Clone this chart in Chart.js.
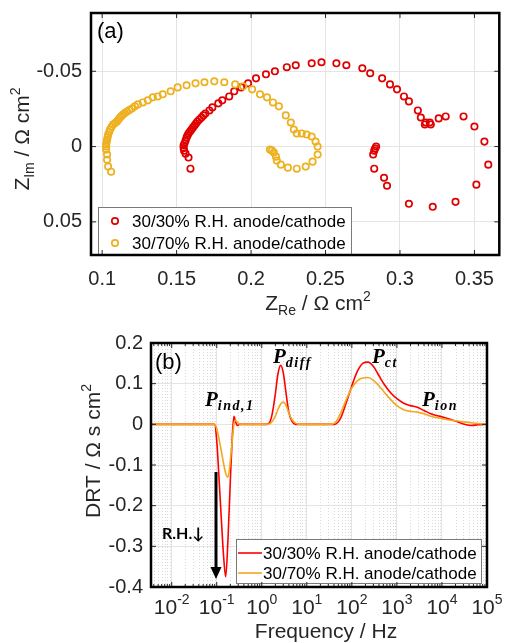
<!DOCTYPE html>
<html>
<head>
<meta charset="utf-8">
<script src="https://cdn.jsdelivr.net/npm/chart.js@4.4.1/dist/chart.umd.min.js"></script>
<style>
    html, body { margin: 0; padding: 0; background: #fff; }
    #wrap { position: relative; width: 505px; height: 643px; overflow: hidden; }
    .panel { position: absolute; left: 0; width: 505px; }
    #panelA { top: 0; height: 320px; }
    #panelB { top: 320px; height: 323px; }
</style>
</head>
<body>
<div id="wrap">
    <div class="panel" id="panelA"><canvas id="nyquistChart" width="505" height="320"></canvas></div>
    <div class="panel" id="panelB"><canvas id="drtChart" width="505" height="323"></canvas></div>
</div>
<script>
// EIS of a fuel cell at two humidity settings: Nyquist (a) and DRT (b)

const labelDry = '30/30% R.H. anode/cathode';
const labelWet = '30/70% R.H. anode/cathode';

// (a) Nyquist points, Z_Re and Z_Im in Ohm cm2
const zReDry = [0.1593, 0.1580, 0.1560, 0.1550, 0.1547, 0.1547, 0.1553, 0.1560, 0.1567, 0.1573,
    0.1580, 0.1590, 0.1600, 0.1610, 0.1620, 0.1630, 0.1640, 0.1653, 0.1667, 0.1680,
    0.1693, 0.1720, 0.1740, 0.1780, 0.1807, 0.1853, 0.1887, 0.1933, 0.1980, 0.2033,
    0.2100, 0.2160, 0.2240, 0.2300, 0.2407, 0.2473, 0.2573, 0.2640, 0.2747, 0.2800,
    0.2880, 0.2933, 0.2980, 0.3027, 0.3060, 0.3120, 0.3140, 0.3167, 0.3173, 0.3200,
    0.3207, 0.3260, 0.3307, 0.3427, 0.3500, 0.3567, 0.3593, 0.3513, 0.3373, 0.3220,
    0.3060, 0.2913, 0.2893, 0.2827, 0.2820, 0.2827, 0.2833, 0.2840];
const zImDry = [0.0147, 0.0073, 0.0047, 0.0027, 0.0010, -0.0007, -0.0020, -0.0040, -0.0060, -0.0073,
    -0.0087, -0.0100, -0.0113, -0.0127, -0.0140, -0.0153, -0.0167, -0.0180, -0.0193, -0.0207,
    -0.0220, -0.0240, -0.0260, -0.0287, -0.0307, -0.0333, -0.0367, -0.0393, -0.0420, -0.0453,
    -0.0480, -0.0500, -0.0527, -0.0540, -0.0553, -0.0560, -0.0553, -0.0540, -0.0520, -0.0487,
    -0.0453, -0.0413, -0.0380, -0.0333, -0.0300, -0.0240, -0.0193, -0.0147, -0.0160, -0.0160,
    -0.0147, -0.0187, -0.0200, -0.0200, -0.0133, -0.0033, 0.0120, 0.0253, 0.0367, 0.0400,
    0.0380, 0.0260, 0.0207, 0.0147, 0.0053, 0.0027, 0.0013, 0.0000];

const zReWet = [0.1060, 0.1040, 0.1033, 0.1033, 0.1027, 0.1027, 0.1027, 0.1030, 0.1033, 0.1037,
    0.1040, 0.1047, 0.1053, 0.1063, 0.1073, 0.1087, 0.1100, 0.1110, 0.1120, 0.1130,
    0.1140, 0.1153, 0.1167, 0.1183, 0.1200, 0.1220, 0.1240, 0.1273, 0.1307, 0.1340,
    0.1373, 0.1407, 0.1460, 0.1507, 0.1567, 0.1627, 0.1687, 0.1753, 0.1820, 0.1893,
    0.1947, 0.2007, 0.2060, 0.2107, 0.2147, 0.2187, 0.2233, 0.2267, 0.2287, 0.2307,
    0.2340, 0.2373, 0.2407, 0.2433, 0.2447, 0.2447, 0.2413, 0.2367, 0.2307, 0.2247,
    0.2200, 0.2173, 0.2167, 0.2153, 0.2140, 0.2127];
const zImWet = [0.0167, 0.0133, 0.0087, 0.0053, 0.0020, 0.0000, -0.0013, -0.0030, -0.0047, -0.0063,
    -0.0080, -0.0097, -0.0113, -0.0130, -0.0147, -0.0157, -0.0167, -0.0180, -0.0193, -0.0203,
    -0.0213, -0.0223, -0.0233, -0.0243, -0.0253, -0.0267, -0.0280, -0.0293, -0.0307, -0.0327,
    -0.0333, -0.0347, -0.0367, -0.0393, -0.0407, -0.0420, -0.0427, -0.0433, -0.0427, -0.0413,
    -0.0400, -0.0380, -0.0347, -0.0327, -0.0293, -0.0267, -0.0207, -0.0160, -0.0113, -0.0087,
    -0.0087, -0.0080, -0.0067, -0.0033, 0.0000, 0.0053, 0.0100, 0.0133, 0.0147, 0.0140,
    0.0120, 0.0093, 0.0067, 0.0040, 0.0027, 0.0020];

const nyqXTicks = [0.1, 0.15, 0.2, 0.25, 0.3, 0.35];
const nyqYTicks = [-0.05, 0, 0.05];

// (b) DRT, frequency in Hz and gamma in Ohm s cm2
const drtFreq = [0.00347, 0.0316, 0.0891, 0.1, 0.112, 0.126, 0.141, 0.158, 0.178, 0.2,
    0.219, 0.24, 0.263, 0.288, 0.316, 0.398, 1, 1.26, 1.48, 1.7,
    2.0, 2.29, 2.63, 3.02, 3.47, 3.98, 4.68, 5.62, 7.08, 31.6,
    41.7, 56.2, 75.9, 100, 132, 174, 229, 302, 398, 525,
    708, 1000, 1413, 1995, 2818, 3981, 5623, 7943, 11220, 15850,
    22390, 31620, 44670, 63100, 100000];
const drtDry = [0, 0, 0, -0.04, -0.13, -0.23, -0.32, -0.375, -0.28, -0.14,
    -0.04, 0.02, 0.006, -0.003, 0, 0, 0, 0, 0.004, 0.025,
    0.075, 0.125, 0.145, 0.125, 0.075, 0.03, 0.007, 0, 0, 0,
    0, 0.015, 0.055, 0.095, 0.13, 0.15, 0.153, 0.142, 0.12, 0.098,
    0.079, 0.063, 0.052, 0.046, 0.042, 0.034, 0.026, 0.021, 0.017, 0.012,
    0.006, 0, -0.003, -0.001, 0];
const drtWet = [0, 0, 0, -0.01, -0.035, -0.065, -0.095, -0.12, -0.13, -0.09,
    -0.045, 0, 0.01, 0.005, 0.001, 0, 0, 0, 0.001, 0.007,
    0.02, 0.037, 0.05, 0.055, 0.046, 0.028, 0.012, 0.003, 0, 0,
    0.003, 0.027, 0.062, 0.09, 0.107, 0.114, 0.115, 0.108, 0.095, 0.079,
    0.062, 0.046, 0.036, 0.032, 0.03, 0.026, 0.02, 0.016, 0.013, 0.01,
    0.008, 0.006, 0.004, 0.002, 0];

const drtXTicks = [1e-2, 1e-1, 1e0, 1e1, 1e2, 1e3, 1e4, 1e5];
const drtYTicks = [-0.4, -0.3, -0.2, -0.1, 0, 0.1, 0.2];

const FONT = '"Liberation Sans", Arial, Helvetica, sans-serif';
const SERIF = '"Liberation Serif", "DejaVu Serif", serif';
const RED = '#e00000';
const ORANGE = '#edb120';
const RED_LINE = '#ff0000';
const ORANGE_LINE = '#f2a81d';
const GRID = '#e4e4e4';
const INK = '#262626';

// draw a run of text pieces (for sub/superscripts)
function drawRich(ctx, parts, x, y, align) {
    let total = 0;
    const setFont = p => {
        ctx.font = (p.w || '') + ' ' + p.s + 'px ' + (p.f || FONT);
        ctx.letterSpacing = (p.ls || 0) + 'px';
    };
    parts.forEach(p => {
        setFont(p);
        p.width = ctx.measureText(p.t).width;
        total += p.width;
    });
    let cx = align === 'center' ? x - total / 2 : x;
    ctx.textAlign = 'left';
    ctx.textBaseline = 'alphabetic';
    parts.forEach(p => {
        setFont(p);
        ctx.fillText(p.t, cx, y + (p.dy || 0));
        cx += p.width;
    });
    ctx.letterSpacing = '0px';
}

function drawFrame(ctx, a, xs, ys, len) {
    ctx.strokeStyle = INK;
    ctx.lineWidth = 1;
    ctx.beginPath();
    xs.forEach(px => {
        ctx.moveTo(px, a.bottom); ctx.lineTo(px, a.bottom - len);
        ctx.moveTo(px, a.top); ctx.lineTo(px, a.top + len);
    });
    ys.forEach(py => {
        ctx.moveTo(a.left, py); ctx.lineTo(a.left + len, py);
        ctx.moveTo(a.right, py); ctx.lineTo(a.right - len, py);
    });
    ctx.stroke();
    ctx.strokeStyle = '#000';
    ctx.lineWidth = 2.5;
    ctx.strokeRect(a.left, a.top, a.right - a.left, a.bottom - a.top);
}

function legendBox(ctx, x, y, w, h) {
    ctx.fillStyle = '#fff';
    ctx.fillRect(x, y, w, h);
    ctx.strokeStyle = '#7a7a7a';
    ctx.lineWidth = 1;
    ctx.strokeRect(x + 0.5, y + 0.5, w, h);
}

// keep the plot box where the reference has it
function noScalePadding(s) {
    s.paddingTop = 0;
    s.paddingBottom = 0;
    s.paddingLeft = 0;
    s.paddingRight = 0;
}

const nyquistDecor = {
    id: 'nyquistDecor',
    afterDraw(chart) {
        const { ctx, chartArea: a, scales: { x, y } } = chart;
        ctx.save();
        // legend
        legendBox(ctx, 98, 207, 253, 47);
        [[RED, labelDry, 221], [ORANGE, labelWet, 243]].forEach(([c, t, ly]) => {
            ctx.strokeStyle = c;
            ctx.lineWidth = 1.7;
            ctx.beginPath();
            ctx.arc(115, ly, 3.2, 0, Math.PI * 2);
            ctx.stroke();
            ctx.fillStyle = '#000';
            ctx.font = '17px ' + FONT;
            ctx.textAlign = 'left';
            ctx.textBaseline = 'middle';
            ctx.fillText(t, 132, ly + 1);
        });
        drawFrame(ctx, a, nyqXTicks.map(v => x.getPixelForValue(v)), nyqYTicks.map(v => y.getPixelForValue(v)), 5);

        ctx.fillStyle = '#000';
        ctx.font = '22px ' + FONT;
        ctx.textAlign = 'left';
        ctx.textBaseline = 'alphabetic';
        ctx.fillText('(a)', 97, 38);

        ctx.fillStyle = INK;
        drawRich(ctx, [
            { t: 'Z', s: 21 }, { t: 'Re', s: 14, dy: 5 },
            { t: ' / Ω cm', s: 21 }, { t: '2', s: 14, dy: -9 }
        ], 318, 310, 'center');

        ctx.save();
        ctx.translate(29, 139);
        ctx.rotate(-Math.PI / 2);
        drawRich(ctx, [
            { t: 'Z', s: 21 }, { t: 'Im', s: 14, dy: 5 },
            { t: ' / Ω cm', s: 21 }, { t: '2', s: 14, dy: -9 }
        ], 0, 0, 'center');
        ctx.restore();
        ctx.restore();
    }
};

const drtDecor = {
    id: 'drtDecor',
    beforeDatasetsDraw(chart) {
        const { ctx, chartArea: a, scales: { x } } = chart;
        ctx.save();
        ctx.strokeStyle = '#d9d9d9';
        ctx.lineWidth = 1;
        ctx.setLineDash([1, 2]);
        ctx.beginPath();
        for (let d = -3; d < 5; d++) {
            for (let k = 2; k < 10; k++) {
                const v = k * Math.pow(10, d);
                if (v < x.min || v > x.max) continue;
                const px = Math.round(x.getPixelForValue(v)) + 0.5;
                ctx.moveTo(px, a.top); ctx.lineTo(px, a.bottom);
            }
        }
        ctx.stroke();
        ctx.restore();
    },
    afterDraw(chart) {
        const { ctx, chartArea: a, scales: { x, y } } = chart;
        ctx.save();
        // minor ticks on log axis
        ctx.strokeStyle = INK;
        ctx.lineWidth = 1;
        ctx.beginPath();
        for (let d = -3; d < 5; d++) {
            for (let k = 2; k < 10; k++) {
                const v = k * Math.pow(10, d);
                if (v < x.min || v > x.max) continue;
                const px = x.getPixelForValue(v);
                ctx.moveTo(px, a.bottom); ctx.lineTo(px, a.bottom - 3);
                ctx.moveTo(px, a.top); ctx.lineTo(px, a.top + 3);
            }
        }
        ctx.stroke();

        // legend
        legendBox(ctx, 236, 219, 245, 44);
        [[RED_LINE, labelDry, 233], [ORANGE_LINE, labelWet, 253]].forEach(([c, t, ly]) => {
            ctx.strokeStyle = c;
            ctx.lineWidth = 1.6;
            ctx.beginPath();
            ctx.moveTo(238, ly); ctx.lineTo(262, ly);
            ctx.stroke();
            ctx.fillStyle = '#000';
            ctx.font = '17px ' + FONT;
            ctx.textAlign = 'left';
            ctx.textBaseline = 'middle';
            ctx.fillText(t, 263, ly + 1);
        });

        drawFrame(ctx, a, drtXTicks.map(v => x.getPixelForValue(v)), drtYTicks.map(v => y.getPixelForValue(v)), 5);

        // decade tick labels
        ctx.fillStyle = INK;
        drtXTicks.forEach(v => {
            const e = Math.round(Math.log10(v));
            drawRich(ctx, [{ t: '10', s: 21 }, { t: String(e), s: 14, dy: -10 }],
                x.getPixelForValue(v), 294, 'center');
        });

        ctx.fillStyle = '#000';
        ctx.font = '22px ' + FONT;
        ctx.textAlign = 'left';
        ctx.textBaseline = 'alphabetic';
        ctx.fillText('(b)', 155, 49);

        // peak annotations
        const bi = 'bold italic';
        [['P', 'ind,1', 205, 86], ['P', 'diff', 273, 43], ['P', 'ct', 372, 43], ['P', 'ion', 422, 86]]
            .forEach(([m, sub, px, py]) => {
                drawRich(ctx, [
                    { t: m, s: 21, w: bi, f: SERIF },
                    { t: sub, s: 14, dy: 4, w: bi, f: SERIF, ls: 1.5 }
                ], px, py, 'left');
            });

        ctx.font = 'bold 16px Lato, "DejaVu Sans", sans-serif';
        ctx.fillText('R.H.↓', 162, 219);

        // humidity arrow
        ctx.strokeStyle = '#000';
        ctx.lineWidth = 3;
        ctx.beginPath();
        ctx.moveTo(216, 152); ctx.lineTo(216, 249);
        ctx.stroke();
        ctx.beginPath();
        ctx.moveTo(210.5, 247); ctx.lineTo(221.5, 247); ctx.lineTo(216, 259);
        ctx.closePath();
        ctx.fill();

        ctx.fillStyle = INK;
        drawRich(ctx, [{ t: 'Frequency / Hz', s: 21 }], 326, 318, 'center');
        ctx.save();
        ctx.translate(100, 131);
        ctx.rotate(-Math.PI / 2);
        drawRich(ctx, [{ t: 'DRT / Ω s cm', s: 21 }, { t: '2', s: 14, dy: -9 }], 0, 0, 'center');
        ctx.restore();
        ctx.restore();
    }
};

function fmtTick(v) {
    return String(Number(v.toFixed(2)));
}

function initNyquistChart() {
    const ctx = document.getElementById('nyquistChart');
    const pts = (xs, ys) => xs.map((v, i) => ({ x: v, y: ys[i] }));
    const markerStyle = c => ({
        borderColor: c,
        backgroundColor: 'rgba(0,0,0,0)',
        pointRadius: 3.2,
        pointBorderWidth: 1.7,
        pointStyle: 'circle'
    });

    new Chart(ctx, {
        type: 'scatter',
        data: {
            datasets: [
                { label: labelDry, data: pts(zReDry, zImDry), order: 1, ...markerStyle(RED) },
                { label: labelWet, data: pts(zReWet, zImWet), order: 0, ...markerStyle(ORANGE) }
            ]
        },
        options: {
            responsive: false,
            animation: false,
            devicePixelRatio: 1,
            layout: { padding: { top: 13, right: 3, left: 0, bottom: 0 } },
            plugins: { legend: { display: false }, tooltip: { enabled: false } },
            scales: {
                x: {
                    type: 'linear',
                    min: 0.0925,
                    max: 0.3667,
                    afterBuildTicks: s => { s.ticks = nyqXTicks.map(v => ({ value: v })); },
                    afterFit: s => { s.height = 65; noScalePadding(s); },
                    grid: { color: GRID, drawTicks: false },
                    border: { display: false },
                    ticks: { color: INK, padding: 12, maxRotation: 0, font: { family: FONT, size: 20 }, callback: fmtTick }
                },
                y: {
                    type: 'linear',
                    reverse: true,
                    min: -0.0887,
                    max: 0.072,
                    afterBuildTicks: s => { s.ticks = nyqYTicks.map(v => ({ value: v })); },
                    afterFit: s => { s.width = 91; noScalePadding(s); },
                    grid: { color: GRID, drawTicks: false },
                    border: { display: false },
                    ticks: { color: INK, padding: 9, font: { family: FONT, size: 20 }, callback: fmtTick }
                }
            }
        },
        plugins: [nyquistDecor]
    });
}

function initDrtChart() {
    const ctx = document.getElementById('drtChart');
    const pts = ys => drtFreq.map((f, i) => ({ x: f, y: ys[i] }));

    new Chart(ctx, {
        type: 'line',
        data: {
            datasets: [
                { label: labelDry, data: pts(drtDry), borderColor: RED_LINE, order: 1 },
                { label: labelWet, data: pts(drtWet), borderColor: ORANGE_LINE, order: 0 }
            ]
        },
        options: {
            responsive: false,
            animation: false,
            devicePixelRatio: 1,
            layout: { padding: { top: 23, right: 18, left: 0, bottom: 0 } },
            elements: {
                point: { radius: 0 },
                line: { borderWidth: 1.6, cubicInterpolationMode: 'monotone', fill: false }
            },
            plugins: { legend: { display: false }, tooltip: { enabled: false } },
            scales: {
                x: {
                    type: 'logarithmic',
                    min: 0.00347,
                    max: 1e5,
                    afterBuildTicks: s => { s.ticks = drtXTicks.map(v => ({ value: v })); },
                    afterFit: s => { s.height = 56; noScalePadding(s); },
                    grid: { color: GRID, drawTicks: false },
                    border: { display: false },
                    ticks: { display: false }
                },
                y: {
                    type: 'linear',
                    min: -0.4,
                    max: 0.2,
                    afterBuildTicks: s => { s.ticks = drtYTicks.map(v => ({ value: v })); },
                    afterFit: s => { s.width = 151; noScalePadding(s); },
                    grid: { color: GRID, drawTicks: false },
                    border: { display: false },
                    ticks: { color: INK, padding: 8, font: { family: FONT, size: 20 }, callback: v => String(Number(v.toFixed(1))) }
                }
            }
        },
        plugins: [drtDecor]
    });
}

initNyquistChart();
initDrtChart();
</script>
</body>
</html>
